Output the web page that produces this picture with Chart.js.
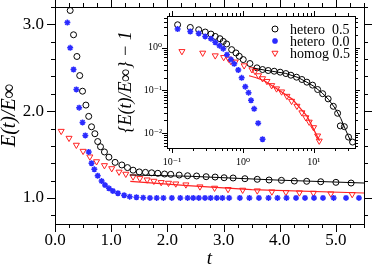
<!DOCTYPE html>
<html>
<head>
<meta charset="utf-8">
<script src="https://cdn.jsdelivr.net/npm/chart.js@4/dist/chart.umd.min.js"></script>
<style>
  body { margin: 0; background: #fff; }
  #wrap { position: relative; width: 373px; height: 268px; }
  #main { position: absolute; left: 0; top: 0; }
  #inset { position: absolute; left: 112px; top: 10px; }
</style>
</head>
<body>
<div id="wrap">
  <canvas id="main" width="373" height="268"></canvas>
  <canvas id="inset" width="255" height="162"></canvas>
</div>
<script>
// ---- main panel: E(t)/E_inf against t ----
var tHet05 = [0.27,0.33,0.39,0.44,0.49,0.55,0.60,0.65,0.71,0.76,0.81,0.88,0.96,1.07,1.19,1.29,1.39,1.50,1.61,1.72,1.83,1.95,2.06,2.21,2.36,2.52,2.69,2.85,3.01,3.17,3.38,3.60,3.81,4.03,4.26,4.48,4.73,5.00,5.27];
var eHet05 = [3.16,2.88,2.63,2.41,2.23,2.07,1.94,1.82,1.74,1.65,1.59,1.53,1.47,1.41,1.38,1.35,1.32,1.30,1.295,1.29,1.284,1.276,1.272,1.264,1.256,1.253,1.245,1.241,1.233,1.23,1.222,1.215,1.207,1.203,1.195,1.192,1.187,1.18,1.172];

var tHet00 = [0.22,0.27,0.33,0.38,0.43,0.49,0.54,0.60,0.65,0.70,0.76,0.83,0.89,0.96,1.03,1.12,1.23,1.33,1.45,1.57,1.69,1.81,1.93,2.08,2.23,2.36,2.46,2.56,2.67,2.77,2.88,2.98,3.10,3.29,3.46,3.63,3.80,3.96,4.12,4.29,4.45,4.61,4.77,4.96,5.18,5.41];
var eHet00 = [3.02,2.73,2.48,2.25,2.04,1.87,1.72,1.53,1.40,1.33,1.256,1.195,1.149,1.111,1.08,1.054,1.031,1.015,1.008,1.003,1.0,1.0,1.0,1.0,1.0,1.0,1.0,1.0,1.0,1.0,1.0,1.0,1.0,1.0,1.0,1.0,1.0,1.0,1.0,1.0,1.0,1.0,1.0,1.0,1.0,1.0];

var tHom05 = [0.11,0.25,0.38,0.50,0.62,0.74,0.88,1.01,1.14,1.26,1.39,1.51,1.64,1.76,1.89,2.02,2.15,2.33,2.58,2.84,3.08,3.34,3.60,3.86,4.11,4.35,4.60,4.91,5.29];
var eHom05 = [1.77,1.69,1.61,1.54,1.475,1.42,1.375,1.34,1.30,1.276,1.245,1.226,1.21,1.195,1.18,1.172,1.164,1.153,1.13,1.115,1.10,1.092,1.084,1.072,1.066,1.061,1.057,1.049,1.042];

// fitted curves
var tFitHet05 = [1.33,2.4,4.0,5.5];
var eFitHet05 = [1.265,1.25,1.205,1.172];
var tFitHom05 = [1.34,2.36,3.5,5.5];
var eFitHom05 = [1.19,1.142,1.095,1.057];

var xTickVals = [0,1,2,3,4,5];
var yTickVals = [1,2,3];

// ---- inset: E(t)/E_inf - 1, log-log ----
var tInHet05 = [0.12,0.181,0.238,0.294,0.354,0.407,0.474,0.528,0.589,0.693,0.797,0.887,1.01,1.255,1.575,1.89,2.27,2.76,3.35,4.03,4.74,5.7,6.78,7.97,9.59,11.3,13.3,15.9,18.8,21.6,23.6,26.9,30.8,35.1];
var vInHet05 = [3.43,2.97,2.62,2.32,2.08,1.83,1.62,1.40,1.22,0.898,0.753,0.628,0.526,0.425,0.337,0.308,0.292,0.281,0.267,0.248,0.227,0.204,0.180,0.156,0.133,0.105,0.0838,0.0634,0.0425,0.0292,0.0148,0.0142,0.0081,0.0062];

var tInHet00 = [0.12,0.181,0.238,0.294,0.354,0.407,0.467,0.528,0.595,0.678,0.754,0.859,0.959,1.08,1.20,1.30,1.44,1.64,1.89];
var vInHet00 = [2.72,2.39,2.15,1.83,1.62,1.33,1.11,0.948,0.687,0.526,0.418,0.30,0.197,0.122,0.0885,0.0585,0.0371,0.0171,0.0072];

var tInHom05 = [0.138,0.271,0.407,0.535,0.629,0.678,0.779,1.04,1.34,1.48,1.66,1.89,2.18,2.54,2.98,3.51,4.17,4.85,5.77,6.78,7.71,8.59,9.9,11.3,11.9];
var vInHom05 = [0.82,0.753,0.652,0.595,0.546,0.48,0.465,0.381,0.308,0.281,0.223,0.19,0.164,0.131,0.11,0.0933,0.0736,0.0563,0.0431,0.0303,0.0232,0.0183,0.0136,0.0087,0.0066];

var tInFit05 = [1.37,2,3,4,6,8,10,13,16,20,24,28,33];
var vInFit05 = [0.335,0.30,0.27,0.25,0.20,0.155,0.125,0.088,0.062,0.038,0.022,0.012,0.0065];
var tInFitHom = [1.22,1.5,2,3,5,8,12];
var vInFitHom = [0.22,0.2,0.168,0.11,0.062,0.025,0.0066];

var inXTickVals = [0.1,1,10];
var inXTickLabels = ['10\u207B\u00B9','10\u2070','10\u00B9'];
var inYTickVals = [0.01,0.1,1];
var inYTickLabels = ['10\u207B\u00B2','10\u207B\u00B9','10\u2070'];

var legendLabels = ['hetero  0.5','hetero  0.0','homog 0.5'];

var BLACK = '#000000', BLUE = '#2b2bff', RED = '#ff2222';
var SERIF = "'Liberation Serif', 'DejaVu Serif', serif";

function pts(xs, ys) { return xs.map(function (x, i) { return { x: x, y: ys[i] }; }); }
function noPadX(s, h) { s.height = h; s.paddingLeft = 0; s.paddingRight = 0; }
function noPadY(s, w) { s.width = w; s.paddingTop = 0; s.paddingBottom = 0; }

// outward ticks on all four sides + full frame
var frameTicks = {
  id: 'frameTicks',
  afterDraw: function (chart, args, o) {
    var ctx = chart.ctx, a = chart.chartArea;
    var xs = chart.scales.x, ys = chart.scales.y;
    ctx.save();
    ctx.strokeStyle = '#000';
    ctx.lineWidth = 1;
    ctx.beginPath();
    function seg(x1, y1, x2, y2) { ctx.moveTo(x1, y1); ctx.lineTo(x2, y2); }
    o.xTicks.forEach(function (t) {
      if (t[0] < xs.min || t[0] > xs.max) return;
      var p = Math.round(xs.getPixelForValue(t[0])) + 0.5;
      seg(p, a.bottom, p, a.bottom + t[1]);
      seg(p, a.top, p, a.top - t[1]);
    });
    o.yTicks.forEach(function (t) {
      if (t[0] < ys.min || t[0] > ys.max) return;
      var p = Math.round(ys.getPixelForValue(t[0])) + 0.5;
      seg(a.left - t[1], p, a.left, p);
      seg(a.right, p, a.right + t[1], p);
    });
    ctx.stroke();
    ctx.strokeRect(Math.round(a.left) + 0.5, Math.round(a.top) + 0.5, Math.round(a.right - a.left), Math.round(a.bottom - a.top));
    ctx.restore();
  }
};

// tick lists for main panel
var mainXT = [], mainYT = [];
for (var i = 0; i <= 22; i++) mainXT.push([i * 0.25, i % 4 === 0 ? 8 : 4]);
for (var j = 4; j <= 16; j++) mainYT.push([j * 0.2, j % 5 === 0 ? 8 : 4]);

// log tick lists for inset
var inXT = [], inYT = [];
[0.01, 0.1, 1, 10].forEach(function (d) {
  for (var k = 1; k <= 9; k++) inXT.push([d * k, k === 1 ? 5 : 3]);
});
[0.001, 0.01, 0.1, 1].forEach(function (d) {
  for (var k = 1; k <= 9; k++) inYT.push([d * k, k === 1 ? 5 : 3]);
});

new Chart(document.getElementById('main'), {
  type: 'scatter',
  data: {
    datasets: [
      { data: pts(tFitHet05, eFitHet05), type: 'line', showLine: true, borderColor: BLACK, borderWidth: 1, pointRadius: 0, fill: false },
      { data: pts(tFitHom05, eFitHom05), type: 'line', showLine: true, borderColor: RED, borderWidth: 1.2, pointRadius: 0, fill: false },
      { label: 'hetero 0.0', data: pts(tHet00, eHet00), pointStyle: 'star', pointRadius: 3, borderColor: BLUE, borderWidth: 1.5, backgroundColor: BLUE },
      { label: 'homog 0.5', data: pts(tHom05, eHom05), pointStyle: 'triangle', rotation: 180, pointRadius: 3.5, borderColor: RED, borderWidth: 1, backgroundColor: 'rgba(0,0,0,0)' },
      { label: 'hetero 0.5', data: pts(tHet05, eHet05), pointStyle: 'circle', pointRadius: 3, borderColor: BLACK, borderWidth: 1, backgroundColor: 'rgba(0,0,0,0)' }
    ]
  },
  options: {
    responsive: false,
    animation: false,
    events: [],
    layout: { padding: { top: 7, right: 9, left: 0, bottom: 0 } },
    plugins: { legend: { display: false }, tooltip: { enabled: false }, frameTicks: { xTicks: mainXT, yTicks: mainYT } },
    scales: {
      x: {
        type: 'linear', min: 0, max: 5.5,
        afterBuildTicks: function (s) { s.ticks = xTickVals.map(function (v) { return { value: v }; }); },
        afterFit: function (s) { noPadX(s, 44); },
        grid: { display: false, drawTicks: false },
        border: { display: false },
        ticks: { padding: 6, color: '#000', font: { family: SERIF, size: 17 }, maxRotation: 0, callback: function (v) { return v.toFixed(1); } },
        title: { display: true, text: 't', color: '#000', padding: { top: 0, bottom: -2 }, font: { family: SERIF, size: 19, style: 'italic' } }
      },
      y: {
        type: 'linear', min: 0.7, max: 3.2,
        afterBuildTicks: function (s) { s.ticks = yTickVals.map(function (v) { return { value: v }; }); },
        afterFit: function (s) { noPadY(s, 55); },
        grid: { display: false, drawTicks: false },
        border: { display: false },
        ticks: { padding: 11, color: '#000', font: { family: SERIF, size: 17 }, callback: function (v) { return v.toFixed(1); } },
        title: { display: true, text: 'E(t)/E\u221E', color: '#000', padding: { top: -2, bottom: 0 }, font: { family: SERIF, size: 20, style: 'italic' } }
      }
    }
  },
  plugins: [frameTicks]
});

// legend drawn inside the inset
var insetLegend = {
  id: 'insetLegend',
  afterDraw: function (chart) {
    var ctx = chart.ctx;
    var styles = [
      { pointStyle: 'circle', radius: 3, rotation: 0, borderWidth: 1, color: BLACK },
      { pointStyle: 'star', radius: 3, rotation: 0, borderWidth: 1.5, color: BLUE },
      { pointStyle: 'triangle', radius: 3.5, rotation: 180, borderWidth: 1, color: RED }
    ];
    ctx.save();
    ctx.font = '14px ' + SERIF;
    ctx.textBaseline = 'middle';
    legendLabels.forEach(function (lab, k) {
      var y = 19 + k * 12;
      var s = styles[k];
      ctx.strokeStyle = s.color;
      ctx.fillStyle = s.pointStyle === 'star' ? s.color : 'rgba(0,0,0,0)';
      ctx.lineWidth = s.borderWidth;
      Chart.helpers.drawPoint(ctx, s, 163, y);
      ctx.fillStyle = '#000';
      ctx.fillText(lab, 178, y + 1);
    });
    ctx.restore();
  }
};

new Chart(document.getElementById('inset'), {
  type: 'scatter',
  data: {
    datasets: [
      { data: pts(tInFit05, vInFit05), type: 'line', showLine: true, borderColor: BLACK, borderWidth: 1, pointRadius: 0, fill: false },
      { data: pts(tInFitHom, vInFitHom), type: 'line', showLine: true, borderColor: RED, borderWidth: 1.2, pointRadius: 0, fill: false },
      { data: pts(tInHet00, vInHet00), pointStyle: 'star', pointRadius: 3, borderColor: BLUE, borderWidth: 1.5, backgroundColor: BLUE },
      { data: pts(tInHom05, vInHom05), pointStyle: 'triangle', rotation: 180, pointRadius: 3.5, borderColor: RED, borderWidth: 1, backgroundColor: 'rgba(0,0,0,0)' },
      { data: pts(tInHet05, vInHet05), pointStyle: 'circle', pointRadius: 3, borderColor: BLACK, borderWidth: 1, backgroundColor: 'rgba(0,0,0,0)' }
    ]
  },
  options: {
    responsive: false,
    animation: false,
    events: [],
    layout: { padding: { top: 6, right: 12, left: 0, bottom: 0 } },
    plugins: { legend: { display: false }, tooltip: { enabled: false }, frameTicks: { xTicks: inXT, yTicks: inYT } },
    scales: {
      x: {
        type: 'logarithmic', min: 0.085, max: 38,
        afterBuildTicks: function (s) { s.ticks = inXTickVals.map(function (v) { return { value: v }; }); },
        afterFit: function (s) { noPadX(s, 24); },
        grid: { display: false, drawTicks: false },
        border: { display: false },
        ticks: { padding: 8, color: '#000', font: { family: SERIF, size: 10 }, maxRotation: 0, autoSkip: false, callback: function (v, i) { return inXTickLabels[i]; } }
      },
      y: {
        type: 'logarithmic', min: 0.0045, max: 5.5,
        afterBuildTicks: function (s) { s.ticks = inYTickVals.map(function (v) { return { value: v }; }); },
        afterFit: function (s) { noPadY(s, 55); },
        grid: { display: false, drawTicks: false },
        border: { display: false },
        ticks: { padding: 5, color: '#000', font: { family: SERIF, size: 10 }, autoSkip: false, callback: function (v, i) { return inYTickLabels[i]; } },
        title: { display: true, text: '{E(t)/E\u221E} \u2212 1', color: '#000', padding: { top: 3, bottom: 0 }, font: { family: SERIF, size: 18, style: 'italic' } }
      }
    }
  },
  plugins: [frameTicks, insetLegend]
});
</script>
</body>
</html>
